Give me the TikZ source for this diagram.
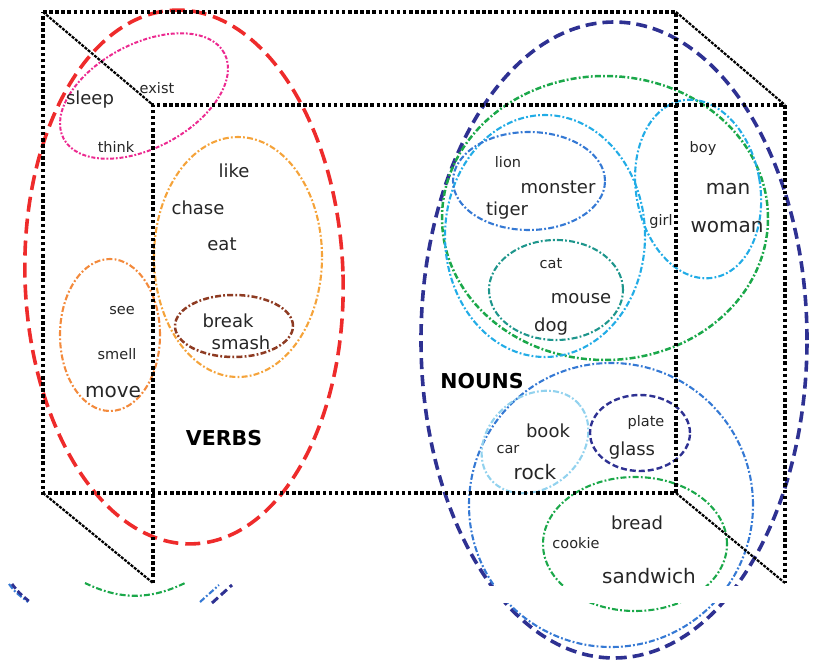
\documentclass[tikz,border=0pt]{standalone}
\usepackage{fontspec}
\setmainfont{DejaVu Sans}
\definecolor{vred}{HTML}{EE2B2B}
\definecolor{vpink}{HTML}{EC2A90}
\definecolor{vorange}{HTML}{F5A33A}
\definecolor{vorangeb}{HTML}{F38A3C}
\definecolor{vbrown}{HTML}{8E3B22}
\definecolor{nnavy}{HTML}{2E3192}
\definecolor{ngreen}{HTML}{1BA84A}
\definecolor{ncyan}{HTML}{22ACE6}
\definecolor{nblue}{HTML}{3579D4}
\definecolor{nteal}{HTML}{1E968C}
\definecolor{nlight}{HTML}{92D2EE}
\begin{document}
\begin{tikzpicture}[x=1pt,y=-1pt,
  cubeedge/.style={line width=3.6pt, dash pattern=on 3.5pt off 2.6pt},
  cubediag/.style={line width=2.2pt, dash pattern=on 3pt off 1.2pt},
  bigset/.style={line width=3.6pt, dash pattern=on 15pt off 7pt},
  nounset/.style={line width=3.6pt, dash pattern=on 11pt off 6pt},
  subset/.style={line width=2.1pt, dash pattern=on 6pt off 2.2pt on 1.8pt off 2.2pt},
  dashset/.style={line width=2.4pt, dash pattern=on 6pt off 3pt},
  word/.style={font=\fontsize{18}{20}\selectfont, inner sep=0pt, anchor=base, text=black!85},
  wsmall/.style={word, font=\fontsize{14.5}{16}\selectfont},
  wbig/.style={word, font=\fontsize{20}{22}\selectfont},
  whead/.style={word, font=\fontsize{20.5}{22}\selectfont\bfseries, text=black}]
\useasboundingbox (0,0) rectangle (820,661);

% ---------- verb sets ----------
\coordinate (cverbs) at (184,277);
\coordinate (cpink) at (144,96);
\coordinate (clike) at (238,257);
\coordinate (csee) at (110,335);
\coordinate (cbreak) at (234,326);
\draw[vred, bigset, rotate around={2:(cverbs)}] (cverbs) ellipse [x radius=159pt, y radius=267pt];
\draw[vpink, line width=2pt, dash pattern=on 4pt off 1.8pt on 1.8pt off 1.8pt, rotate around={28:(cpink)}] (cpink) ellipse [x radius=91pt, y radius=52pt];
\draw[vorange, subset] (clike) ellipse [x radius=84pt, y radius=120pt];
\draw[vorangeb, subset] (csee) ellipse [x radius=50pt, y radius=76pt];
\draw[vbrown, subset, line width=2.5pt] (cbreak) ellipse [x radius=59pt, y radius=31pt];

% ---------- noun sets ----------
\coordinate (cnouns) at (614,340);
\coordinate (canim) at (605,218);
\coordinate (cbeast) at (545,236);
\coordinate (clion) at (529,181);
\coordinate (ccat) at (556,290);
\coordinate (cpeople) at (698,189);
\coordinate (cthing) at (611,505);
\coordinate (cbook) at (535,442);
\coordinate (cplate) at (640,433);
\coordinate (cfood) at (635,544);
\draw[nnavy, nounset] (cnouns) ellipse [x radius=193pt, y radius=318pt];
\draw[ngreen, subset, line width=2.5pt] (canim) ellipse [x radius=163pt, y radius=142pt];
\draw[ncyan, subset] (cbeast) ellipse [x radius=100pt, y radius=121pt];
\draw[nblue, subset] (clion) ellipse [x radius=76pt, y radius=49pt];
\draw[nteal, subset] (ccat) ellipse [x radius=67pt, y radius=50pt];
\draw[ncyan, subset, rotate around={10:(cpeople)}] (cpeople) ellipse [x radius=62pt, y radius=90pt];
\draw[nblue, subset] (cthing) ellipse [x radius=142pt, y radius=142pt];
\draw[nlight, subset, rotate around={40:(cbook)}] (cbook) ellipse [x radius=58pt, y radius=46pt];
\draw[nnavy, dashset] (cplate) ellipse [x radius=50pt, y radius=38pt];
\draw[ngreen, subset] (cfood) ellipse [x radius=92pt, y radius=67pt];

% ---------- the box ----------
\coordinate (b1) at (43,12);
\coordinate (b2) at (676,12);
\coordinate (b3) at (676,493);
\coordinate (b4) at (43,493);
\coordinate (f1) at (153,105);
\coordinate (f2) at (785,105);
\coordinate (f3) at (785,583);
\coordinate (f4) at (153,583);
\draw[cubeedge] (b1) -- (b2) -- (b3) -- (b4) -- cycle;
\draw[cubeedge] (f4) -- (f1) -- (f2) -- (f3);
\draw[cubediag] (b1) -- (f1);
\draw[cubediag] (b2) -- (f2);
\draw[cubediag] (b3) -- (f3);
\draw[cubediag] (b4) -- (f4);

% ---------- torn strip near the bottom ----------
\fill[white] (0,586) rectangle (820,603);
\coordinate (s1) at (9,584);
\coordinate (s2) at (28,602);
\coordinate (s3) at (85,583);
\coordinate (s4) at (185,583);
\coordinate (s5) at (200,602);
\coordinate (s6) at (219,585);
\coordinate (s7) at (212,603);
\coordinate (s8) at (232,585);
\draw[nblue, subset] (s1) .. controls (15,592) .. (s2);
\draw[nnavy, line width=2.8pt, dash pattern=on 6pt off 3pt] ([xshift=3pt]s1) .. controls (19,593) .. ([xshift=2pt]s2);
\draw[ngreen, subset] (s3) .. controls (120,600) and (150,600) .. (s4);
\draw[nblue, subset] (s5) -- (s6);
\draw[nnavy, line width=3pt, dash pattern=on 8pt off 4pt] (s7) -- (s8);

% ---------- verbs ----------
\node[word]   (sleep) at (90,104) {sleep};
\node[wsmall] (exist) at (157,93) {exist};
\node[wsmall] (think) at (116,153) {think};
\node[word]   (like)  at (234,177) {like};
\node[word]   (chase) at (198,214) {chase};
\node[word]   (eat)   at (222,250) {eat};
\node[wsmall] (see)   at (122,314) {see};
\node[wsmall] (smell) at (117,359) {smell};
\node[wbig]   (move)  at (113,397) {move};
\node[word]   (break) at (228,327) {break};
\node[word]   (smash) at (241,349) {smash};
\node[whead]  (verbs) at (224,445) {VERBS};

% ---------- nouns ----------
\node[wsmall] (lion)    at (508,167) {lion};
\node[word]   (monster) at (558,193) {monster};
\node[word]   (tiger)   at (507,215) {tiger};
\node[wsmall] (boy)     at (703,153) {boy};
\node[wbig]   (man)     at (728,194) {man};
\node[wbig]   (woman)   at (727,232) {woman};
\node[wsmall] (girl)    at (661,225) {girl};
\node[wsmall] (cat)     at (551,268) {cat};
\node[word]   (mouse)   at (581,303) {mouse};
\node[word]   (dog)     at (551,331) {dog};
\node[whead]  (nouns)   at (482,388) {NOUNS};
\node[word]   (book)    at (548,437) {book};
\node[wsmall] (car)     at (508,453) {car};
\node[wbig]   (rock)    at (535,479) {rock};
\node[wsmall] (plate)   at (646,426) {plate};
\node[word]   (glass)   at (632,455) {glass};
\node[word]   (bread)   at (637,529) {bread};
\node[wsmall] (cookie)  at (576,548) {cookie};
\node[wbig]   (sandwich) at (649,583) {sandwich};
\end{tikzpicture}
\end{document}
